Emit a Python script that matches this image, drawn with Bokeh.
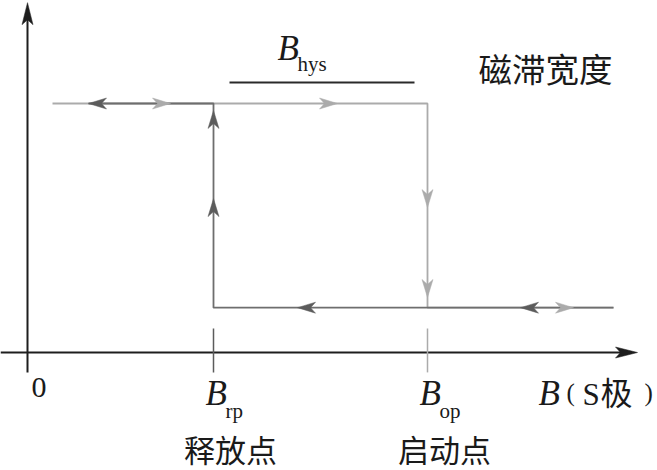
from bokeh.plotting import figure
from bokeh.models import Range1d
from bokeh.core.properties import value
from bokeh.embed import file_html
from bokeh.resources import INLINE

# ---------------- data (B in arbitrary units, output level 0..1) ----------------
B_rp = 0.93          # release point
B_op = 2.0           # operate point
out_high = 1.0       # output level "high"
out_low = 0.18       # output level "low"
B_start = 0.125      # left end of upper branch
B_end = 2.93         # right end of lower branch
B_axis_end = 3.05    # x axis arrow tip
out_axis_end = 1.405 # y axis arrow tip
axis_min_B = -0.135
axis_min_out = -0.08
hys_bar_B = [1.01, 1.935]
hys_bar_out = 1.084

dark_arrow_B = [0.305, B_rp, B_rp, 1.35, 2.465]
dark_arrow_out = [out_high, 0.972, 0.618, out_low, out_low]
dark_arrow_dir = ["left", "up", "up", "left", "left"]

light_arrow_B = [0.715, 1.55, B_op, B_op, 2.73]
light_arrow_out = [out_high, out_high, 0.582, 0.221, out_low]
light_arrow_dir = ["right", "right", "down", "down", "right"]

x_point_labels = ["rp", "op"]
x_point_names = ["释放点", "启动点"]
title_text = "磁滞宽度"

# ---------------- styling / layout ----------------
SX, SY = 200.0, 249.0      # px per unit
AXIS = "#1e1e1e"
DARK = "#5c5c5c"
DARKL = "#6e6e6e"
LIGHT = "#ababab"
TXT = "#1a1a1a"
SERIF = "Liberation Serif"
CJK = "Noto Sans CJK SC"
LAT_SHIFT = 0.35   # empirical baseline correction (em)
CJK_SHIFT = 0.46


def fx(xr):
    return (xr - 27) / SX


def fy(yr):
    return (352 - yr) / SY


p = figure(width=657, height=470,
           x_range=Range1d(fx(0), fx(657)), y_range=Range1d(fy(470), fy(0)),
           output_backend="svg", toolbar_location=None, min_border=0,
           x_axis_location=None, y_axis_location=None)
p.grid.visible = False
p.outline_line_color = None
p.background_fill_color = "white"
p.border_fill_color = "white"

DIRS = {"left": (-1, 0), "right": (1, 0), "up": (0, -1), "down": (0, 1)}


def heads(xs, ys, dirs, L=18, W=5.5, N=5):
    px, py = [], []
    for x, y, d in zip(xs, ys, dirs):
        dx, dy = DIRS[d]          # screen-direction (y down)
        nx, ny = -dy, dx
        pts = [(0, 0),
               (-L * dx + W * nx, -L * dy + W * ny),
               (-(L - N) * dx, -(L - N) * dy),
               (-L * dx - W * nx, -L * dy - W * ny)]
        px.append([x + a / SX for a, b in pts])
        py.append([y - b / SY for a, b in pts])
    return px, py


# axes
p.line([axis_min_B, B_axis_end - 6 / SX], [0, 0], line_color=AXIS, line_width=2)
p.line([0, 0], [axis_min_out, out_axis_end - 6 / SY], line_color=AXIS, line_width=2)
ax_x, ax_y = heads([B_axis_end, 0], [0, out_axis_end], ["right", "up"], L=22, W=5.5, N=5)
p.patches(ax_x, ax_y, fill_color=AXIS, line_color=AXIS, line_width=0.5)

# ticks at B_rp / B_op
p.line([B_rp, B_rp], [axis_min_out, fy(328)], line_color=DARK, line_width=1.5)
p.line([B_op, B_op], [axis_min_out, fy(328)], line_color=LIGHT, line_width=1.5)

# light path (increasing B)
p.line([B_start, B_op, B_op, B_end], [out_high, out_high, out_low, out_low],
       line_color=LIGHT, line_width=1.8)
# dark path (decreasing B)
p.line([B_end, B_rp, B_rp, dark_arrow_B[0]], [out_low, out_low, out_high, out_high],
       line_color=DARKL, line_width=1.8)

lx, ly = heads(light_arrow_B, light_arrow_out, light_arrow_dir)
p.patches(lx, ly, fill_color=LIGHT, line_color=LIGHT, line_width=0.5)
dx_, dy_ = heads(dark_arrow_B, dark_arrow_out, dark_arrow_dir)
p.patches(dx_, dy_, fill_color=DARK, line_color=DARK, line_width=0.5)

# hysteresis bar
p.line(hys_bar_B, [hys_bar_out, hys_bar_out], line_color="#2a2a2a", line_width=2)


def txt(x, y, s, font, size, style="normal", align="left"):
    k = CJK_SHIFT if font == CJK else LAT_SHIFT
    p.text(x=[x], y=[y + k * size / SY], text=[s], text_font=value(font),
           text_font_size=value(f"{size:.1f}px"), text_font_style=style,
           text_align=align, text_baseline="alphabetic", text_color=TXT)


# origin label
txt(fx(38.5), fy(397), "0", SERIF, 30, align="center")

# B_rp / B_op labels
for Bv, sub in zip([B_rp, B_op], x_point_labels):
    txt(Bv - 8 / SX, fy(405), "B", SERIF, 35, style="italic")
    txt(Bv + 12 / SX, fy(418), sub, SERIF, 21)

# point names
for Bv, name in zip([B_rp, B_op], x_point_names):
    txt(Bv + 17 / SX, fy(462), name, CJK, 31, align="center")

# x axis name B（S极）
txt(fx(538), fy(405), "B", SERIF, 35, style="italic")
txt(fx(566), fy(401), "(", SERIF, 25)
txt(fx(582), fy(405), "S", SERIF, 31)
txt(fx(600), fy(405), "极", CJK, 32)
txt(fx(644), fy(401), ")", SERIF, 25)

# B_hys label
txt(fx(277), fy(60), "B", SERIF, 35, style="italic")
txt(fx(297), fy(71), "hys", SERIF, 21)

# title-like label
txt(fx(478), fy(82), title_text, CJK, 33.5)

open("out.html", "w").write(file_html(p, INLINE))
